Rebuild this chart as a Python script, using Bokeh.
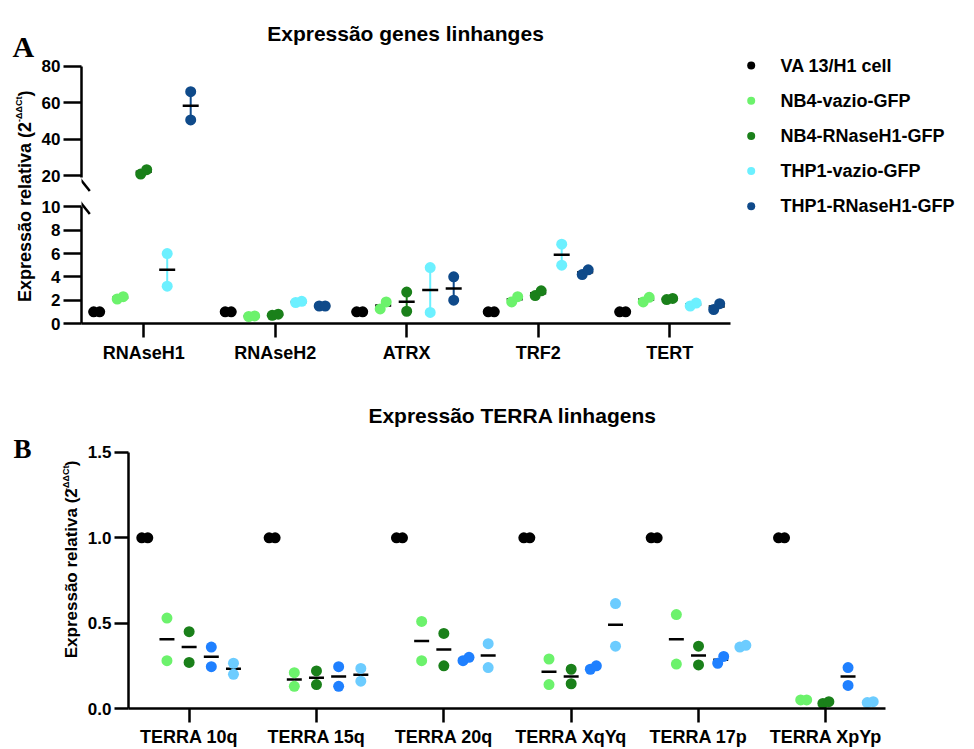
from math import pi
from bokeh.plotting import figure
from bokeh.layouts import column, row
from bokeh.models import (Range1d, LinearAxis, FixedTicker, Label, ColumnDataSource,
                          PrintfTickFormatter)
from bokeh.core.properties import value
from bokeh.embed import file_html
from bokeh.resources import INLINE

FONT = "Liberation Sans"

# ---------------- data: panel A (two replicates per group) ----------------
genes = ["RNAseH1", "RNAseH2", "ATRX", "TRF2", "TERT"]
series_a = ["VA 13/H1 cell", "NB4-vazio-GFP", "NB4-RNaseH1-GFP", "THP1-vazio-GFP", "THP1-RNaseH1-GFP"]
colors_a = ["#000000", "#6cf26c", "#1a801a", "#6cf0ff", "#0f4a8a"]
va13_a = [[1.0, 1.0], [1.0, 1.0], [1.0, 1.0], [1.0, 1.0], [1.0, 1.0]]
nb4_vazio_a = [[2.1, 2.3], [0.6, 0.65], [1.25, 1.85], [1.85, 2.3], [1.85, 2.25]]
nb4_rnaseh1_a = [[20.8, 23.2], [0.7, 0.8], [2.7, 1.05], [2.4, 2.8], [2.05, 2.15]]
thp1_vazio_a = [[6.0, 3.2], [1.8, 1.9], [4.8, 0.95], [6.8, 5.0], [1.5, 1.75]]
thp1_rnaseh1_a = [[66.0, 50.5], [1.5, 1.5], [4.0, 2.0], [4.2, 4.6], [1.2, 1.7]]
reps_a = [va13_a, nb4_vazio_a, nb4_rnaseh1_a, thp1_vazio_a, thp1_rnaseh1_a]
ticks_a_low = [0, 2, 4, 6, 8, 10]
ticks_a_up = [20, 40, 60, 80]

# ---------------- data: panel B ----------------
terra = ["TERRA 10q", "TERRA 15q", "TERRA 20q", "TERRA XqYq", "TERRA 17p", "TERRA XpYp"]
colors_b = ["#000000", "#6cf26c", "#1a801a", "#1f80ff", "#6cccff"]
va13_b = [[1.0, 1.0]] * 6
nb4_vazio_b = [[0.53, 0.28], [0.21, 0.13], [0.51, 0.28], [0.29, 0.14], [0.55, 0.26], [0.05, 0.05]]
nb4_rnaseh1_b = [[0.45, 0.27], [0.22, 0.14], [0.44, 0.25], [0.23, 0.145], [0.365, 0.255], [0.03, 0.04]]
thp1_vazio_b = [[0.36, 0.245], [0.245, 0.13], [0.28, 0.30], [0.23, 0.25], [0.265, 0.305], [0.24, 0.135]]
thp1_rnaseh1_b = [[0.265, 0.20], [0.235, 0.16], [0.38, 0.24], [0.615, 0.365], [0.36, 0.37], [0.035, 0.04]]
reps_b = [va13_b, nb4_vazio_b, nb4_rnaseh1_b, thp1_vazio_b, thp1_rnaseh1_b]
ticks_b = [0.0, 0.5, 1.0, 1.5]

# ---------------- layout constants (absolute page pixels) ----------------
LAB_A_W = 38                 # left strip with "A" and the y title
A_LEFT, A_RIGHT = 81, 740    # frame of panel A plots
A_SPLIT, A_BOT, A_H = 195, 323, 380
A_CAT0, A_STEP, A_AXEND = 143.2, 131.5, 730
A_LOW_PPU = 11.66
A_UP_PPU = (175.0 - 65.7) / 60.0
A_BREAK = 10
LEG_W = 974 - A_RIGHT

LAB_B_W = 84
B_TOP, B_H = 380, 369
B_LEFT, B_BOT = 127, 711
B_CAT0, B_STEP, B_AXEND = 187.7, 127.5, 885
B_PPU = 172.27


def jitter(v1, v2, ppu, junits, thresh=10.0):
    if abs(v1 - v2) * ppu < thresh:
        return (-junits, junits) if v1 <= v2 else (junits, -junits)
    return 0.0, 0.0


def style_axis(ax, tick_out, size, standoff):
    ax.axis_line_width = 2.5
    ax.axis_line_color = "black"
    ax.major_tick_line_width = 2.5
    ax.major_tick_line_color = "black"
    ax.major_tick_out = tick_out
    ax.major_tick_in = 0
    ax.minor_tick_line_color = None
    ax.major_label_text_font = FONT
    ax.major_label_text_font_style = "bold"
    ax.major_label_text_font_size = f"{size}px"
    ax.major_label_text_color = "black"
    ax.major_label_standoff = standoff


def bare_fig(w, h, xr, yr, **kw):
    p = figure(width=w, height=h, x_range=xr, y_range=yr, output_backend="svg",
               toolbar_location=None, title=None, x_axis_type=None, y_axis_type=None,
               min_border_left=kw.get("l", 0), min_border_right=kw.get("r", 0),
               min_border_top=kw.get("t", 0), min_border_bottom=kw.get("b", 0))
    p.outline_line_color = None
    return p


def text_label(p, x, y, text, size, align="left", baseline="alphabetic", angle=0.0,
               font=FONT):
    p.add_layout(Label(x=x, y=y, text=text, angle=angle, text_align=align,
                       text_baseline=baseline, text_font=font, text_font_style="bold",
                       text_font_size=f"{size}px", text_color="black"))


def y_title(p, h, x_main, x_sup, top_py, main_size, sup_size):
    """Rotated 'Expressão relativa (2^-ΔΔCt)' built from the top end downwards."""
    close_w = 0.333 * main_size
    sup_w = 2.83 * sup_size
    text_label(p, x_main, h - top_py, ")", main_size, align="right", baseline="middle",
               angle=pi / 2)
    text_label(p, x_sup, h - (top_py + close_w), "-ΔΔCt", sup_size, align="right",
               baseline="middle", angle=pi / 2)
    text_label(p, x_main, h - (top_py + close_w + sup_w), "Expressão relativa (2", main_size,
               align="right", baseline="middle", angle=pi / 2)


# ====================== PANEL A ======================
xa0 = -(A_CAT0 - A_LEFT) / A_STEP
xa1 = xa0 + (A_RIGHT - A_LEFT) / A_STEP
plot_w = A_RIGHT - LAB_A_W

# upper segment (20-80)
up_y0 = 20 - (A_SPLIT - 175.0) / A_UP_PPU
up_y1 = 80 + 65.7 / A_UP_PPU
pU = bare_fig(plot_w, A_SPLIT, Range1d(xa0, xa1), Range1d(up_y0, up_y1), l=A_LEFT - LAB_A_W)
ya_up = LinearAxis(ticker=FixedTicker(ticks=ticks_a_up), bounds=(18.8, 80))
style_axis(ya_up, 18, 17, 3)
pU.add_layout(ya_up, "left")

# lower segment (0-10) with x axis
pL = bare_fig(plot_w, A_H - A_SPLIT, Range1d(xa0, xa1),
              Range1d(0, (A_BOT - A_SPLIT) / A_LOW_PPU), l=A_LEFT - LAB_A_W, b=A_H - A_BOT)
ya_low = LinearAxis(ticker=FixedTicker(ticks=ticks_a_low), bounds=(0, 10))
style_axis(ya_low, 18, 17, 3)
pL.add_layout(ya_low, "left")
xa_ax = LinearAxis(ticker=FixedTicker(ticks=list(range(len(genes)))),
                   major_label_overrides={i: g for i, g in enumerate(genes)},
                   bounds=(xa0, xa0 + (A_AXEND - A_LEFT) / A_STEP))
style_axis(xa_ax, 14, 18, 5)
pL.add_layout(xa_ax, "below")

A_OFF = 23.5 / A_STEP
A_J = 3.0 / A_STEP
A_HALF = 8.0 / A_STEP
layers = {"up": ([], [], []), "low": ([], [], [])}   # err, mean, dots
for si, (col, reps) in enumerate(zip(colors_a, reps_a)):
    per = {k: dict(dx=[], dy=[], mx0=[], mx1=[], my=[], ex=[], ey0=[], ey1=[]) for k in layers}
    for gi, pair in enumerate(reps):
        seg = "up" if min(pair) > A_BREAK else "low"
        ppu = A_UP_PPU if seg == "up" else A_LOW_PPU
        xc = gi + (si - 2) * A_OFF
        j1, j2 = jitter(pair[0], pair[1], ppu, A_J)
        d = per[seg]
        d["dx"] += [xc + j1, xc + j2]
        d["dy"] += [pair[0], pair[1]]
        d["mx0"].append(xc - A_HALF)
        d["mx1"].append(xc + A_HALF)
        d["my"].append(sum(pair) / len(pair))
        d["ex"].append(xc)
        d["ey0"].append(min(pair))
        d["ey1"].append(max(pair))
    for seg, d in per.items():
        if d["dx"]:
            layers[seg][0].append((col, dict(x=d["ex"], y0=d["ey0"], y1=d["ey1"])))
            layers[seg][1].append(dict(x0=d["mx0"], x1=d["mx1"], y=d["my"]))
            layers[seg][2].append((col, dict(x=d["dx"], y=d["dy"])))

for seg, p in (("up", pU), ("low", pL)):
    errs, means, dots = layers[seg]
    for col, src in errs:
        p.segment(x0="x", y0="y0", x1="x", y1="y1", source=ColumnDataSource(src),
                  line_color=col, line_width=2)
    for src in means:
        p.segment(x0="x0", y0="y", x1="x1", y1="y", source=ColumnDataSource(src),
                  line_color="black", line_width=2.5)
    for col, src in dots:
        p.scatter(x="x", y="y", source=ColumnDataSource(src), size=11,
                  fill_color=col, line_color=None)


def ax_px(px):
    return xa0 + (px - A_LEFT) / A_STEP


def up_py(py):
    return 20 - (py - 175.0) / A_UP_PPU


def low_py(py):
    return (A_BOT - py) / A_LOW_PPU


# axis break marks
pU.segment(x0=[ax_px(77.3)], y0=[up_py(175.5)], x1=[ax_px(89.3)], y1=[up_py(190.5)],
           line_color="black", line_width=2.5)
pL.segment(x0=[ax_px(77.3)], y0=[low_py(198.5)], x1=[ax_px(89.3)], y1=[low_py(213.5)],
           line_color="black", line_width=2.5)

text_label(pU, ax_px(405), up_py(33.3), "Expressão genes linhanges", 21, align="center")

# left strip: panel letter and rotated y title
labA = bare_fig(LAB_A_W, A_H, Range1d(0, LAB_A_W), Range1d(0, A_H))
text_label(labA, 12, A_H - 46, "A", 30, font="Liberation Serif")
y_title(labA, A_H, 24, 18.5, 90, 18, 9)

# legend strip (rows are series indices)
LEG_ROW0, LEG_PITCH = 65.0, 35.2
legF = bare_fig(LEG_W, A_H, Range1d(0, LEG_W),
                Range1d((A_H - LEG_ROW0) / LEG_PITCH, -LEG_ROW0 / LEG_PITCH))
leg_idx = list(range(len(series_a)))
leg_src = ColumnDataSource(dict(i=leg_idx, name=series_a, color=colors_a,
                                dot_x=[750.7 - A_RIGHT] * len(series_a),
                                txt_x=[780.0 - A_RIGHT] * len(series_a)))
legF.scatter(x="dot_x", y="i", source=leg_src, size=8, fill_color="color", line_color=None)
legF.text(x="txt_x", y="i", text="name", source=leg_src, text_font=value(FONT),
          text_font_style="bold", text_font_size="18px", text_baseline="middle",
          text_color="black")

# ====================== PANEL B ======================
xb0 = -(B_CAT0 - B_LEFT) / B_STEP
xb1 = xb0 + (974 - B_LEFT) / B_STEP
pB = bare_fig(974 - LAB_B_W, B_H, Range1d(xb0, xb1), Range1d(0, (B_BOT - B_TOP) / B_PPU),
              l=B_LEFT - LAB_B_W, b=B_TOP + B_H - B_BOT)
yb_ax = LinearAxis(ticker=FixedTicker(ticks=ticks_b), bounds=(0, 1.5),
                   formatter=PrintfTickFormatter(format="%.1f"))
style_axis(yb_ax, 14, 17, 3)
pB.add_layout(yb_ax, "left")
xb_ax = LinearAxis(ticker=FixedTicker(ticks=list(range(len(terra)))),
                   major_label_overrides={i: t for i, t in enumerate(terra)},
                   bounds=(xb0, xb0 + (B_AXEND - B_LEFT) / B_STEP))
style_axis(xb_ax, 14, 18, 4)
pB.add_layout(xb_ax, "below")

B_OFF = 22.2 / B_STEP
B_J = 3.0 / B_STEP
B_HALF = 7.5 / B_STEP
srcs_b = []
for si, (col, reps) in enumerate(zip(colors_b, reps_b)):
    dx, dy, mx0, mx1, my = [], [], [], [], []
    for gi, pair in enumerate(reps):
        xc = gi + (si - 2) * B_OFF
        j1, j2 = jitter(pair[0], pair[1], B_PPU, B_J)
        dx += [xc + j1, xc + j2]
        dy += [pair[0], pair[1]]
        mx0.append(xc - B_HALF)
        mx1.append(xc + B_HALF)
        my.append(sum(pair) / len(pair))
    srcs_b.append((col, dict(x=dx, y=dy), dict(x0=mx0, x1=mx1, y=my)))
for col, dsrc, msrc in srcs_b:
    pB.segment(x0="x0", y0="y", x1="x1", y1="y", source=ColumnDataSource(msrc),
               line_color="black", line_width=2.5)
for col, dsrc, msrc in srcs_b:
    pB.scatter(x="x", y="y", source=ColumnDataSource(dsrc), size=11,
               fill_color=col, line_color=None)


def bx_px(px):
    return xb0 + (px - B_LEFT) / B_STEP


def by_px(py_abs):
    return (B_BOT - py_abs) / B_PPU


text_label(pB, bx_px(511.5), by_px(415), "Expressão TERRA linhagens", 21, align="center")

labB = bare_fig(LAB_B_W, B_H, Range1d(0, LAB_B_W), Range1d(0, B_H))
text_label(labB, 13, B_TOP + B_H - 456.7, "B", 27, font="Liberation Serif")
y_title(labB, B_H, 71, 65.5, 470 - B_TOP, 17, 9)

layout = column(row(labA, column(pU, pL, spacing=0), legF, spacing=0),
                row(labB, pB, spacing=0), spacing=0)
open("out.html", "w").write(file_html(layout, INLINE))
